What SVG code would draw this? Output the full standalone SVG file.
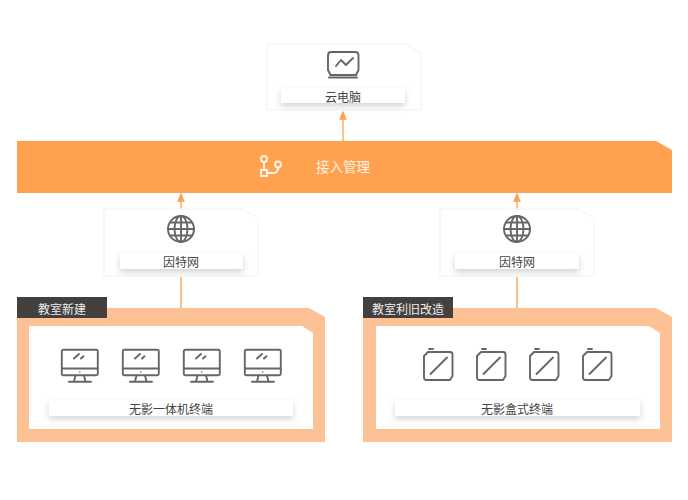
<svg xmlns="http://www.w3.org/2000/svg" width="688" height="500" viewBox="0 0 688 500">
<style>
text{font-family:"Noto Sans CJK SC","Liberation Sans",sans-serif;text-anchor:middle;dominant-baseline:central}
.lbl{font-size:12px;fill:#444}
.card{fill:#fff;stroke:#f6f6f6;stroke-width:1.5}
.cap{fill:#fff;filter:url(#sh)}
.ic{fill:none;stroke:#666;stroke-width:1.9;stroke-linecap:round;stroke-linejoin:round}
.cn{fill:none;stroke:#ffa14f;stroke-width:1.3}
.outer{fill:#fdc196}
.inner{fill:#fff}
.tag{fill:#44403e}
.tagt{font-size:12px;fill:#eee}
</style>
<defs>
<filter id="sh" x="-10%" y="-50%" width="120%" height="220%"><feDropShadow dx="0" dy="3" stdDeviation="3" flood-color="#808080" flood-opacity="0.35"/></filter>
<marker id="ah" markerWidth="7" markerHeight="6" refX="6" refY="3" orient="auto"><path d="M0 0L7 3L0 6z" fill="#ffa14f"/></marker>
<g id="mon">
<rect x="0.8" y="0.8" width="36" height="25.500" rx="1.5" class="ic"/>
<path d="M1 19.500H36.600M14.500 26.500L13 32.500M23 26.500L24.500 32.500M8 32.800H30M13 9.500L18 5M20 9.500L22.500 7.200" class="ic"/>
<circle cx="18.800" cy="23" r="0.8" fill="#666"/>
</g>
<g id="box">
<path d="M5 4H27Q29.500 4 29.500 6.500V28L27 32H3.500Q1 32 1 29.500V8Z" class="ic"/>
<path d="M6 1H10M7.500 26L24 9.500" class="ic"/>
</g>
<g id="globe" class="ic">
<circle cx="14" cy="14" r="13"/>
<ellipse cx="14" cy="14" rx="6.500" ry="13"/>
<path d="M14 1V27M1 14H27M3 7.500H25M3 20.500H25"/>
</g>
</defs>
<rect width="688" height="500" fill="#fff"/>
<g id="connectors">
<path class="cn" d="M343 141V112" marker-end="url(#ah)"/>
<path class="cn" d="M181 209V194" marker-end="url(#ah)"/>
<path class="cn" d="M181 276V308"/>
<path class="cn" d="M517 209V194" marker-end="url(#ah)"/>
<path class="cn" d="M517 276V308"/>
</g>
<g id="cloud">
<path class="card" d="M267 44H405L421 53V110H267Z"/>
<rect class="cap" x="281" y="88" width="124" height="15"/>
<text class="lbl" x="343" y="96">云电脑</text>
<g class="ic">
<path d="M331 52H355Q358.500 52 358.500 55.500V70L356 75H330.500L328 70V55.500Q328 52 331 52Z"/>
<path d="M329 77.500H357M336 66L341 60L346 65L353 58"/>
</g>
</g>
<g id="access">
<path d="M17 141H656L672 150V193H17Z" fill="#ffa14f"/>
<text x="343" y="166" font-size="13.500" fill="#fff3e6">接入管理</text>
<g fill="none" stroke="#fff3e6" stroke-width="2">
<circle cx="264" cy="159" r="3"/>
<circle cx="278" cy="164.500" r="3"/>
<rect x="261" y="170" width="6" height="6"/>
<path d="M264 162V170M267 173H274Q278 173 278 167.500"/>
</g>
</g>
<g id="net1">
<path class="card" d="M104 209H242L258 218V276H104Z"/>
<rect class="cap" x="120" y="253" width="123" height="16"/>
<text class="lbl" x="181" y="261">因特网</text>
<use href="#globe" x="167" y="215"/>
</g>
<g id="net2">
<path class="card" d="M440 209H578L594 218V276H440Z"/>
<rect class="cap" x="455" y="253" width="124" height="16"/>
<text class="lbl" x="517" y="261">因特网</text>
<use href="#globe" x="503" y="215"/>
</g>
<g id="room1">
<path class="outer" d="M17 308H309L325 317V442H17Z"/>
<path class="inner" d="M29 326H302L313 333V429H29Z"/>
<rect class="tag" x="17" y="297" width="90" height="21"/>
<text class="tagt" x="62" y="308">教室新建</text>
<use href="#mon" x="61" y="349"/>
<use href="#mon" x="122" y="349"/>
<use href="#mon" x="183" y="349"/>
<use href="#mon" x="244" y="349"/>
<rect class="cap" x="49" y="400" width="244" height="16"/>
<text class="lbl" x="171" y="408">无影一体机终端</text>
</g>
<g id="room2">
<path class="outer" d="M363 308H656L672 317V442H363Z"/>
<path class="inner" d="M376 326H649L660 333V429H376Z"/>
<rect class="tag" x="363" y="297" width="90" height="21"/>
<text class="tagt" x="408" y="308">教室利旧改造</text>
<use href="#box" x="423" y="348"/>
<use href="#box" x="476" y="348"/>
<use href="#box" x="529" y="348"/>
<use href="#box" x="582" y="348"/>
<rect class="cap" x="395" y="400" width="245" height="16"/>
<text class="lbl" x="517" y="408">无影盒式终端</text>
</g>
</svg>
